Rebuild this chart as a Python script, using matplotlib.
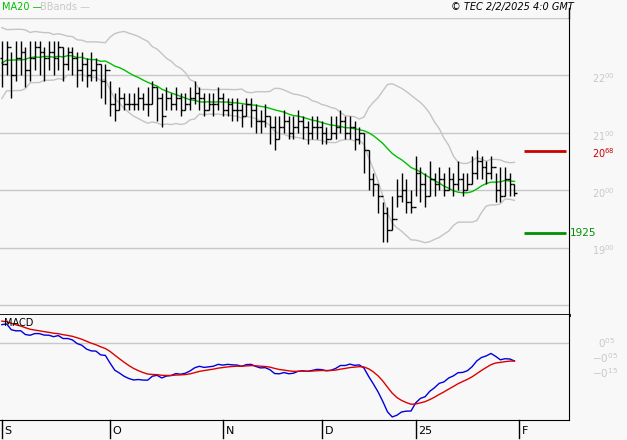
import numpy as np
import pandas as pd
import matplotlib
matplotlib.use("Agg")
import matplotlib.pyplot as plt
from matplotlib.transforms import blended_transform_factory as btf

warmup = [21.4,21.9,21.5,22.0,21.6,22.1,21.6,21.5,22.0,22.2,22.4,21.9,21.7,22.3,22.5,22.0,22.4,22.6,22.1,22.5,21.9,22.4,22.7,22.1,22.6,22.3]
close = [22.2,22.5,22.0,22.3,22.4,22.1,22.3,22.5,22.4,22.3,
         22.4,22.3,22.5,22.2,22.4,22.3,22.1,22.2,22.0,22.1,
         22.2,21.9,22.1,21.5,21.4,21.6,21.5,21.5,21.5,21.6,
         21.5,21.5,21.8,21.6,21.3,21.6,21.5,21.6,21.4,21.5,
         21.6,21.7,21.6,21.4,21.5,21.5,21.6,21.4,21.5,21.4,
         21.4,21.3,21.5,21.4,21.2,21.2,21.3,21.1,20.9,21.1,
         21.2,21.0,21.1,21.2,21.1,21.0,21.1,21.1,21.0,20.9,
         21.0,21.1,21.2,21.0,21.1,20.9,21.0,20.7,20.2,20.1,
         19.9,19.6,19.3,19.5,19.9,20.0,19.8,19.7,20.3,20.1,
         19.9,20.2,20.1,20.2,20.0,20.2,20.1,20.2,20.0,20.1,
         20.3,20.5,20.4,20.3,20.4,20.0,19.9,20.2,20.1,19.95]
high = [22.6,22.6,22.4,22.6,22.6,22.5,22.6,22.6,22.6,22.5,
        22.6,22.6,22.6,22.5,22.5,22.5,22.4,22.4,22.3,22.4,
        22.3,22.2,22.2,21.9,21.7,21.8,21.7,21.7,21.7,21.8,
        21.7,21.8,21.9,21.8,21.7,21.8,21.7,21.8,21.7,21.7,
        21.8,21.9,21.8,21.7,21.7,21.7,21.8,21.7,21.6,21.6,
        21.6,21.5,21.6,21.6,21.5,21.4,21.5,21.3,21.3,21.3,
        21.4,21.3,21.3,21.4,21.3,21.2,21.3,21.3,21.2,21.1,
        21.3,21.3,21.4,21.3,21.3,21.2,21.1,21.0,20.7,20.3,
        20.1,19.8,19.7,19.9,20.2,20.3,20.2,20.0,20.6,20.4,
        20.3,20.5,20.3,20.4,20.3,20.4,20.3,20.5,20.3,20.3,
        20.6,20.7,20.6,20.5,20.6,20.3,20.4,20.4,20.3,20.1]
low = [21.8,22.0,21.6,21.9,22.0,21.8,21.9,22.1,22.0,21.9,
       22.1,22.0,22.1,21.9,22.1,22.0,21.8,21.9,21.8,21.9,
       21.9,21.6,21.5,21.3,21.2,21.4,21.4,21.4,21.4,21.4,
       21.4,21.3,21.5,21.2,21.1,21.4,21.4,21.4,21.3,21.4,
       21.4,21.5,21.4,21.3,21.4,21.3,21.4,21.3,21.3,21.2,
       21.2,21.1,21.3,21.1,21.0,21.0,21.1,20.8,20.7,20.9,
       21.0,20.9,20.9,21.0,20.9,20.8,20.9,20.9,20.8,20.8,
       20.9,20.9,21.0,20.9,20.9,20.7,20.8,20.3,20.0,19.9,
       19.6,19.1,19.1,19.3,19.7,19.8,19.6,19.6,19.9,19.8,
       19.7,19.9,19.9,20.0,19.9,20.0,19.9,20.0,19.9,20.0,
       20.1,20.2,20.2,20.1,20.2,19.8,19.8,19.9,19.9,19.9]
month_labels = ["S", "O", "N", "D", "25", "F"]
month_index = [0, 23, 47, 68, 88, 110]
resistance = 20.68
support = 19.25
price_ticks = [19.0, 20.0, 21.0, 22.0]
macd_ticks = [0.05, -0.05, -0.15]

allc = pd.Series(warmup + close)
nw = len(warmup)
ma = allc.rolling(20, min_periods=1).mean()
sd = allc.rolling(20, min_periods=2).std(ddof=0)
up, lo = ma + 2*sd, ma - 2*sd
ema12 = allc.ewm(span=12, adjust=False).mean()
ema26 = allc.ewm(span=26, adjust=False).mean()
macd = ema12 - ema26
sig = macd.ewm(span=9, adjust=False).mean()
xi = np.arange(len(allc)) - nw
vis = xi >= 0
x = np.arange(len(close))
opens = [warmup[-1]] + close[:-1]

bg = "#f8f8f8"
fig = plt.figure(figsize=(6.27, 4.4), dpi=100, facecolor=bg)
W, H = 627, 440
ax = fig.add_axes([0, 1-315/H, 569/W, (315-18)/H], facecolor=bg)
ax2 = fig.add_axes([0, 1-420/H, 569/W, (420-315)/H], facecolor=bg)
XL = (-0.4, 120.6)
for a in (ax, ax2):
    a.set_xlim(*XL)
    a.spines["left"].set_visible(False)
    a.spines["top"].set_visible(False)
    a.spines["right"].set_color("black")
    a.set_xticks([]); a.set_yticks([])
ax.spines["bottom"].set_linewidth(2)
ax.set_ylim(17.825, 23.0)
for g in [18.0, 19.0, 20.0, 21.0, 22.0, 23.0]:
    ax.axhline(g, color="#c8c8c8", lw=1, zorder=0)
ax.plot(xi[vis], up[vis], color="#c4c4c4", lw=1)
ax.plot(xi[vis], lo[vis], color="#c4c4c4", lw=1)
ax.plot(xi[vis], ma[vis], color="#00c000", lw=1)
ax.vlines(x, low, high, color="black", lw=1)
ax.hlines(opens, x-0.5, x, color="black", lw=1)
ax.hlines(close, x, x+0.5, color="black", lw=1)
ax.hlines(resistance, 111, 120, color="#cc0000", lw=2)
ax.hlines(support, 111, 120, color="#009000", lw=2)
tr = btf(fig.transFigure, ax.transData)
for t in price_ticks:
    s = f"{t:.2f}".split(".")
    ax.text(592/W, t - 0.05, r"$\mathregular{%s^{%s}}$" % (s[0], s[1]), transform=tr, color="#c8c8c8", fontsize=7, va="center")
s = f"{resistance:.2f}".split(".")
ax.text(592/W, resistance - 0.03, r"$\mathregular{%s^{%s}}$" % (s[0], s[1]), transform=tr, color="#cc0000", fontsize=7, va="center")
ax.text(570/W, support, f"{support:.2f}".replace(".", ""), transform=tr, color="#009000", fontsize=7.5, va="center")

ax2.plot(xi[vis], macd[vis], color="#0000dd", lw=1)
ax2.plot(xi[vis], sig[vis], color="#dd0000", lw=1)
mv = np.concatenate([macd[vis], sig[vis]])
ax2.set_ylim(mv.min() - 0.02, mv.max() + 0.04)
ax2.axhline(0.05, color="#c8c8c8", lw=1, zorder=0)
tr2 = btf(fig.transFigure, ax2.transData)
for t in macd_ticks:
    s = f"{t:.2f}".replace("0.", "0^{")
    ax2.text(598/W if t > 0 else 592/W, t, r"$\mathregular{%s}}$" % s, transform=tr2, color="#c8c8c8", fontsize=7.5, va="center")
ax2.text(0.5, 0.97, "MACD", transform=btf(ax2.transData, ax2.transAxes), fontsize=7, va="top")

trb = btf(ax2.transData, fig.transFigure)
for lab, i in zip(month_labels, month_index):
    ax2.plot([i, i], [1-420/H, 1-438/H], transform=trb, color="black", lw=1, clip_on=False)
    ax2.text(i + 0.6, 1-431/H, lab, transform=trb, fontsize=8, va="center", ha="left")

fig.text(2/W, 1-7/H, "MA20 —", color="#00c000", fontsize=7, va="center")
fig.text(40/W, 1-7/H, "BBands —", color="#c8c8c8", fontsize=7, va="center")
fig.text(574/W, 1-7/H, "© TEC 2/2/2025 4:0 GMT", fontsize=7, style="italic", ha="right", va="center")
fig.add_artist(plt.Line2D([569/W, 569/W], [1-8/H, 1-18/H], color="black", lw=1))
fig.savefig("out.png", dpi=100, facecolor=bg)
